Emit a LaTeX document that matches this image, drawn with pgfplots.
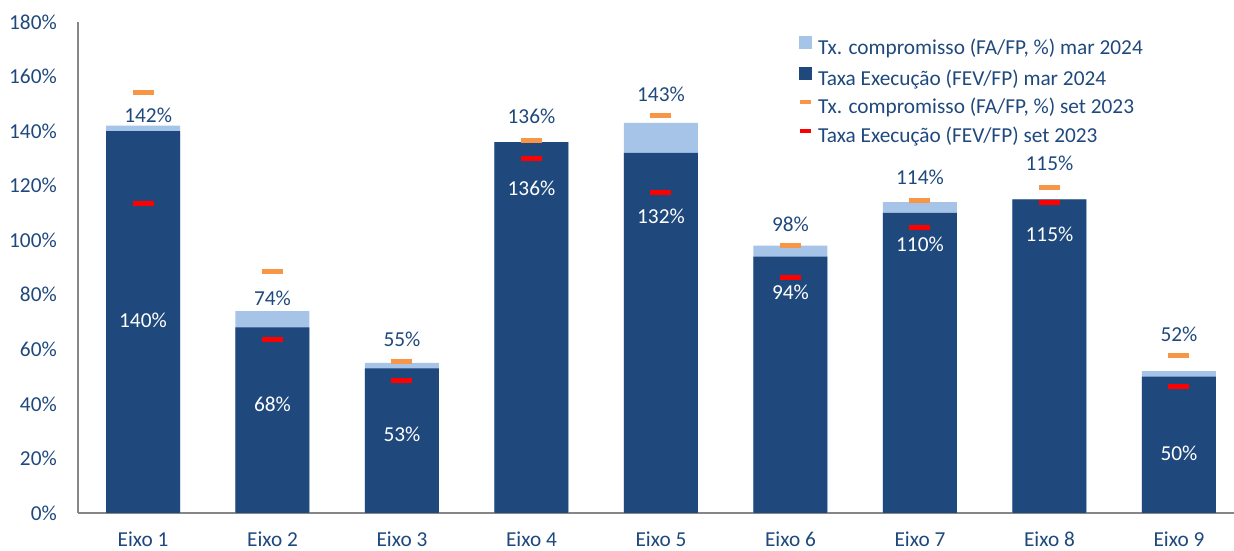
\documentclass[border=0pt]{standalone}
\usepackage{fontspec}
\setmainfont{Carlito}
\usepackage{pgfplots}
\pgfplotsset{compat=1.18}
\definecolor{txt}{RGB}{31,73,125}
\definecolor{darkbar}{RGB}{31,73,125}
\definecolor{lightbar}{RGB}{166,196,232}
\definecolor{orng}{RGB}{247,150,70}
\definecolor{redm}{RGB}{255,0,0}
\definecolor{axgray}{RGB}{134,134,134}
\newcommand{\ff}{\fontsize{21.3}{25}\selectfont}
\begin{document}
\begin{tikzpicture}[font=\ff]
\begin{axis}[name=ax, scale only axis, width=1156pt, height=491pt,
  xmin=-0.502, xmax=8.425, ymin=0, ymax=180,
  axis x line=bottom, axis y line=left,
  axis line style={-, axgray, line width=1.5pt},
  xtick={0,1,2,3,4,5,6,7,8},
  xticklabels={Eixo 1,Eixo 2,Eixo 3,Eixo 4,Eixo 5,Eixo 6,Eixo 7,Eixo 8,Eixo 9},
  ytick={0,20,...,180},
  major tick length=0pt,
  yticklabel={\pgfmathprintnumber{\tick}\%},
  /pgf/number format/assume math mode=true,
  ticklabel style={font=\ff, text=txt},
  yticklabel style={inner sep=0pt, xshift=-21pt},
  xticklabel style={inner sep=0pt, yshift=-18.5pt},
  legend cell align=left,
  legend style={at={(0.6228,0.972)}, anchor=north west, draw=none, fill=none,
    inner sep=0pt, row sep=8pt, font=\ff, text=txt,
    nodes={inner sep=0pt, text height=15.5pt, text depth=5pt},
    /tikz/every odd column/.append style={column sep=5pt}},
  clip=false,
]
\addplot[ybar, bar width=74pt, bar shift=0pt, fill=lightbar, draw=none,
  legend image code/.code={\fill[lightbar] (0pt,0pt) rectangle (13pt,13pt);}]
  coordinates {(0,142) (1,74) (2,55) (3,136) (4,143) (5,98) (6,114) (7,115) (8,52)};
\addlegendentry{Tx. compromisso (FA/FP, \%) mar 2024}
\addplot[ybar, bar width=74pt, bar shift=0pt, fill=darkbar, draw=none,
  legend image code/.code={\fill[darkbar] (0pt,0pt) rectangle (13pt,13pt);}]
  coordinates {(0,140) (1,68) (2,53) (3,136) (4,132) (5,94) (6,110) (7,115) (8,50)};
\addlegendentry{Taxa Execução (FEV/FP) mar 2024}
\addplot[only marks, mark=-, mark size=10.5pt, mark options={line width=5pt, draw=orng},
  legend image code/.code={\draw[orng, line width=4pt] (1pt,6.5pt) -- (12pt,6.5pt);}]
  coordinates {(0,154.2) (1,88.6) (2,55.6) (3,136.7) (4,145.8) (5,97.9) (6,114.5) (7,119.4) (8,57.6)};
\addlegendentry{Tx. compromisso (FA/FP, \%) set 2023}
\addplot[only marks, mark=-, mark size=10.5pt, mark options={line width=5pt, draw=redm},
  legend image code/.code={\draw[redm, line width=4pt] (1pt,6.5pt) -- (12pt,6.5pt);}]
  coordinates {(0,113.3) (1,63.5) (2,48.6) (3,130) (4,117.5) (5,86.5) (6,104.6) (7,114) (8,46.2)};
\addlegendentry{Taxa Execução (FEV/FP) set 2023}
% total labels
\node[text=txt] at (axis cs:0.04,145.8) {142\%};
\node[text=txt] at (axis cs:1,78.8) {74\%};
\node[text=txt] at (axis cs:2,63.7) {55\%};
\node[text=txt] at (axis cs:3,145.3) {136\%};
\node[text=txt] at (axis cs:4,153.5) {143\%};
\node[text=txt] at (axis cs:5,105.9) {98\%};
\node[text=txt] at (axis cs:6,123.1) {114\%};
\node[text=txt] at (axis cs:7,128.3) {115\%};
\node[text=txt] at (axis cs:8,65.6) {52\%};
% execution labels
\node[text=white] at (axis cs:0,70.7) {140\%};
\node[text=white] at (axis cs:1,40) {68\%};
\node[text=white] at (axis cs:2,29) {53\%};
\node[text=white] at (axis cs:3,119) {136\%};
\node[text=white] at (axis cs:4,108.7) {132\%};
\node[text=white] at (axis cs:5,81) {94\%};
\node[text=white] at (axis cs:6,98.5) {110\%};
\node[text=white] at (axis cs:7,102) {115\%};
\node[text=white] at (axis cs:8,21.7) {50\%};
\end{axis}
\pgfresetboundingbox
\path ([xshift=-78pt,yshift=-38pt]ax.south west) rectangle ([yshift=22pt]ax.north east);
\end{tikzpicture}
\end{document}
